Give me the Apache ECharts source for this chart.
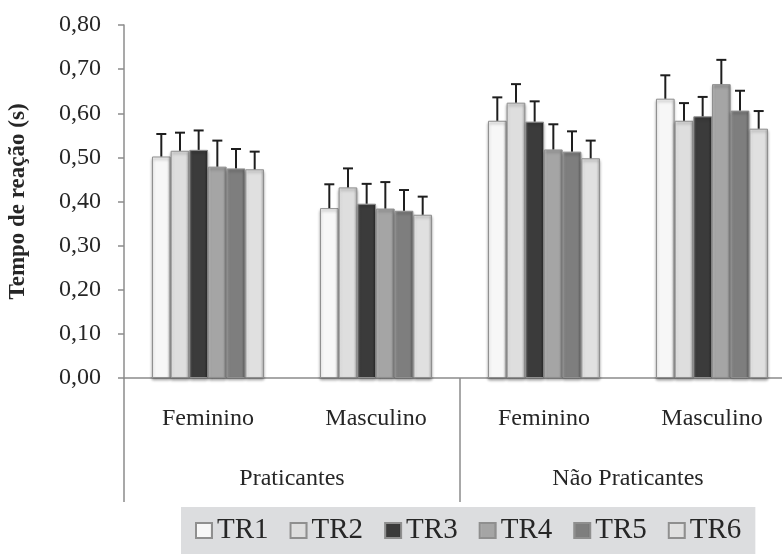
<!DOCTYPE html>
<html>
<head>
<meta charset="utf-8">
<script src="https://cdn.jsdelivr.net/npm/echarts@6/dist/echarts.min.js"></script>
<style>
  html, body { margin: 0; padding: 0; background: #fff; }
  #chart { width: 782px; height: 560px; }
</style>
</head>
<body>
<div id="chart"></div>
<script>
const subgroups = ["Feminino", "Masculino", "Feminino", "Masculino"];
const groups = ["Praticantes", "Não Praticantes"];
const seriesNames = ["TR1", "TR2", "TR3", "TR4", "TR5", "TR6"];

// mean reaction time per subgroup
const tr1 = [0.502, 0.385, 0.583, 0.633];
const tr2 = [0.515, 0.432, 0.624, 0.583];
const tr3 = [0.517, 0.395, 0.581, 0.593];
const tr4 = [0.479, 0.384, 0.518, 0.666];
const tr5 = [0.475, 0.379, 0.513, 0.606];
const tr6 = [0.473, 0.370, 0.498, 0.565];

// standard deviation (upper error bar)
const sd1 = [0.051, 0.054, 0.053, 0.053];
const sd2 = [0.041, 0.043, 0.042, 0.040];
const sd3 = [0.044, 0.045, 0.046, 0.044];
const sd4 = [0.059, 0.060, 0.057, 0.055];
const sd5 = [0.044, 0.047, 0.046, 0.045];
const sd6 = [0.040, 0.041, 0.040, 0.040];

const yTicks = ["0,00", "0,10", "0,20", "0,30", "0,40", "0,50", "0,60", "0,70", "0,80"];

const means = [tr1, tr2, tr3, tr4, tr5, tr6];
const sds = [sd1, sd2, sd3, sd4, sd5, sd6];

const fills = [
  ["#ffffff", "#f7f7f7", "#d0d0d0"],
  ["#f4f4f4", "#dedede", "#b8b8b8"],
  ["#5a5a5a", "#3b3b3b", "#2a2a2a"],
  ["#c4c4c4", "#a5a5a5", "#868686"],
  ["#9c9c9c", "#7e7e7e", "#646464"],
  ["#f4f4f4", "#e0e0e0", "#b8b8b8"]
];

const catGap = 0.333;
const serif = "Liberation Serif";
const textColor = "#262626";
const axisGray = "#8c8c8c";

function barFill(c) {
  return new echarts.graphic.LinearGradient(0, 0, 1, 0, [
    { offset: 0, color: c[0] },
    { offset: 0.18, color: c[1] },
    { offset: 0.82, color: c[1] },
    { offset: 1, color: c[2] }
  ]);
}

const chart = echarts.init(document.getElementById("chart"));

const series = [];
seriesNames.forEach((name, i) => {
  series.push({
    name: name,
    type: "bar",
    xAxisIndex: 0,
    barGap: "0%",
    barCategoryGap: (catGap * 100) + "%",
    data: means[i],
    itemStyle: {
      color: barFill(fills[i]),
      borderColor: "#8f8f8f",
      borderWidth: 1,
      shadowColor: "rgba(0,0,0,0.35)",
      shadowBlur: 3,
      shadowOffsetY: 2
    },
    emphasis: { disabled: true }
  });
});

seriesNames.forEach((name, i) => {
  series.push({
    name: name + " dp",
    type: "custom",
    xAxisIndex: 0,
    z: 5,
    data: means[i].map((v, k) => [k, v, sds[i][k]]),
    encode: { x: 0, y: 1 },
    renderItem: function (params, api) {
      const cat = api.value(0);
      const v = api.value(1);
      const e = api.value(2);
      const band = api.size([1, 0])[0];
      const barW = band * (1 - catGap) / seriesNames.length;
      const base = api.coord([cat, v]);
      const top = api.coord([cat, v + e]);
      const x = base[0] + (i - 2.5) * barW;
      const style = { stroke: "#1e1e1e", lineWidth: 2 };
      return {
        type: "group",
        children: [
          { type: "line", shape: { x1: x, y1: base[1], x2: x, y2: top[1] }, style: style },
          { type: "line", shape: { x1: x - 5, y1: top[1], x2: x + 5, y2: top[1] }, style: style }
        ]
      };
    }
  });
});

chart.setOption({
  animation: false,
  grid: { left: 124, right: -14, top: 25, bottom: 182, outerBoundsMode: "none" },
  legend: {
    data: seriesNames,
    left: 181,
    top: 507,
    padding: [9, 14, 9, 14],
    backgroundColor: "#dcdddf",
    itemWidth: 16,
    itemHeight: 15,
    itemGap: 21,
    icon: "rect",
    textStyle: { fontFamily: serif, fontSize: 29, color: textColor }
  },
  xAxis: [
    {
      type: "category",
      data: subgroups,
      axisLine: { lineStyle: { color: axisGray, width: 1.5 } },
      axisTick: { show: false },
      axisLabel: { margin: 29, fontFamily: serif, fontSize: 24, color: textColor }
    },
    {
      type: "category",
      data: groups,
      position: "bottom",
      axisLine: { show: false },
      axisTick: { show: true, length: 124, lineStyle: { color: axisGray, width: 1.5 } },
      axisLabel: { margin: 89, fontFamily: serif, fontSize: 24, color: textColor }
    }
  ],
  yAxis: {
    type: "value",
    min: 0,
    max: 0.8,
    interval: 0.1,
    name: "Tempo de reação (s)",
    nameLocation: "middle",
    nameGap: 94,
    nameTextStyle: { fontFamily: serif, fontSize: 23, fontWeight: "bold", color: textColor },
    axisLine: { show: true, lineStyle: { color: axisGray, width: 1.5 } },
    axisTick: { show: true, length: 6, lineStyle: { color: axisGray, width: 1.5 } },
    splitLine: { show: false },
    axisLabel: {
      margin: 23,
      fontFamily: serif,
      fontSize: 24,
      color: textColor,
      formatter: function (v) { return yTicks[Math.round(v * 10)]; }
    }
  },
  series: series
});
</script>
</body>
</html>
